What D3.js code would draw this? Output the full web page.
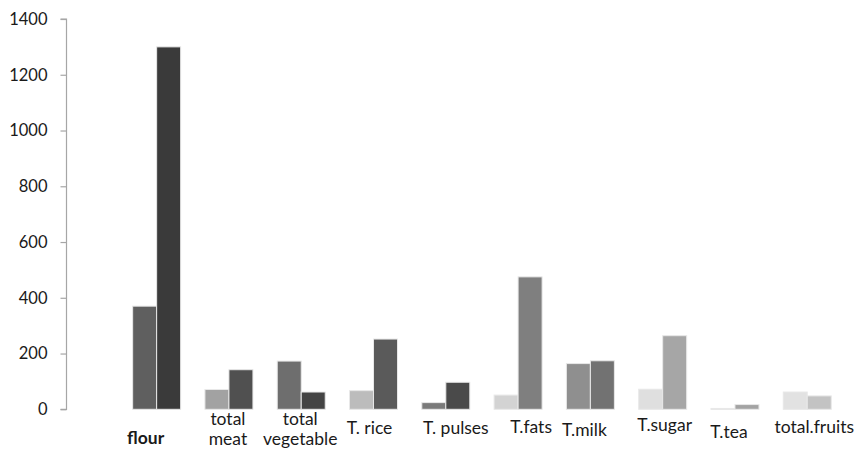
<!DOCTYPE html>
<html>
<head>
<meta charset="utf-8">
<script src="https://cdn.jsdelivr.net/npm/d3@7/dist/d3.min.js"></script>
<style>
  html, body { margin: 0; padding: 0; background: #fff; }
  svg text { font-family: Lato, "Open Sans", sans-serif; fill: #1a1a1a; }
</style>
</head>
<body>
<svg id="chart" width="856" height="449"></svg>
<script>
// Food items compared in two groups
const categories = ["flour", "total meat", "total vegetable", "T. rice", "T. pulses",
                    "T.fats", "T.milk", "T.sugar", "T.tea", "total.fruits"];
const seriesA = [370, 71, 173, 67, 24, 51, 164, 72, 3, 62];
const seriesB = [1300, 142, 62, 252, 97, 475, 174, 264, 17, 48];
const yTicks = [0, 200, 400, 600, 800, 1000, 1200, 1400];

// Fill of each bar (first / second of every pair)
const fillA = ["#5f5f5f", "#a2a2a2", "#6e6e6e", "#bcbcbc", "#7a7a7a",
               "#d3d3d3", "#8f8f8f", "#dfdfdf", "#bdbdbd", "#e2e2e2"];
const fillB = ["#3a3a3a", "#505050", "#444444", "#5a5a5a", "#4a4a4a",
               "#7f7f7f", "#727272", "#a6a6a6", "#a3a3a3", "#c3c3c3"];

// Hand placement of the category captions (offset from the pair centre, baseline)
const labelDx = [-11, -1, -1, -4, 10, 13, -6, 2, -6, 7];
const labelBase = [444, 425, 425, 434, 434, 433, 436, 431, 438, 433];

const svg = d3.select("#chart");

const y = d3.scaleLinear().domain([0, 1400]).range([409.3, 19]);
const x = d3.scaleBand().domain(categories).range([120.5, 843.4]).padding(0);
const pairW = 48;
const x1 = d3.scaleBand().domain([0, 1])
  .range([(x.bandwidth() - pairW) / 2, (x.bandwidth() + pairW) / 2]).padding(0);

// y axis
const yAxis = d3.axisLeft(y).tickValues(yTicks).tickSize(6).tickPadding(13)
  .tickFormat(d3.format("d"));
const gy = svg.append("g").attr("transform", "translate(66.5,0)").call(yAxis);
gy.selectAll("path, line").attr("stroke", "#a6a6a6").attr("stroke-width", 1.2);
gy.select(".domain").attr("d", `M-6,${y(1400)}H0V${y(0)}H-6`);
gy.selectAll("text").style("font-family", "Lato, sans-serif")
  .style("font-size", "16.5px").attr("fill", "#1a1a1a");

// bars
const rows = categories.map((c, i) => ({ c, i, vals: [seriesA[i], seriesB[i]] }));
const groups = svg.append("g").selectAll("g").data(rows).join("g")
  .attr("transform", d => `translate(${x(d.c)},0)`);
groups.selectAll("rect")
  .data(d => d.vals.map((v, k) => ({ v, k, i: d.i })))
  .join("rect")
  .attr("x", d => x1(d.k))
  .attr("width", x1.bandwidth())
  .attr("y", d => y(d.v))
  .attr("height", d => y(0) - y(d.v))
  .attr("fill", d => (d.k === 0 ? fillA : fillB)[d.i])
  .attr("stroke", "#e8e8e8")
  .attr("stroke-width", 1);

// category captions
const lab = svg.append("g").selectAll("text").data(rows).join("text")
  .attr("text-anchor", "middle")
  .attr("font-size", "17.5px")
  .attr("font-weight", d => d.i === 0 ? "bold" : "normal")
  .attr("x", d => x(d.c) + x.bandwidth() / 2 + labelDx[d.i])
  .attr("y", d => labelBase[d.i]);
lab.each(function(d) {
  const words = d.c.startsWith("total ") ? d.c.split(" ") : [d.c];
  const t = d3.select(this);
  words.forEach((w, j) => {
    t.append("tspan")
      .attr("x", x(d.c) + x.bandwidth() / 2 + labelDx[d.i])
      .attr("dy", j === 0 ? 0 : 19.5)
      .text(w);
  });
});
</script>
</body>
</html>
